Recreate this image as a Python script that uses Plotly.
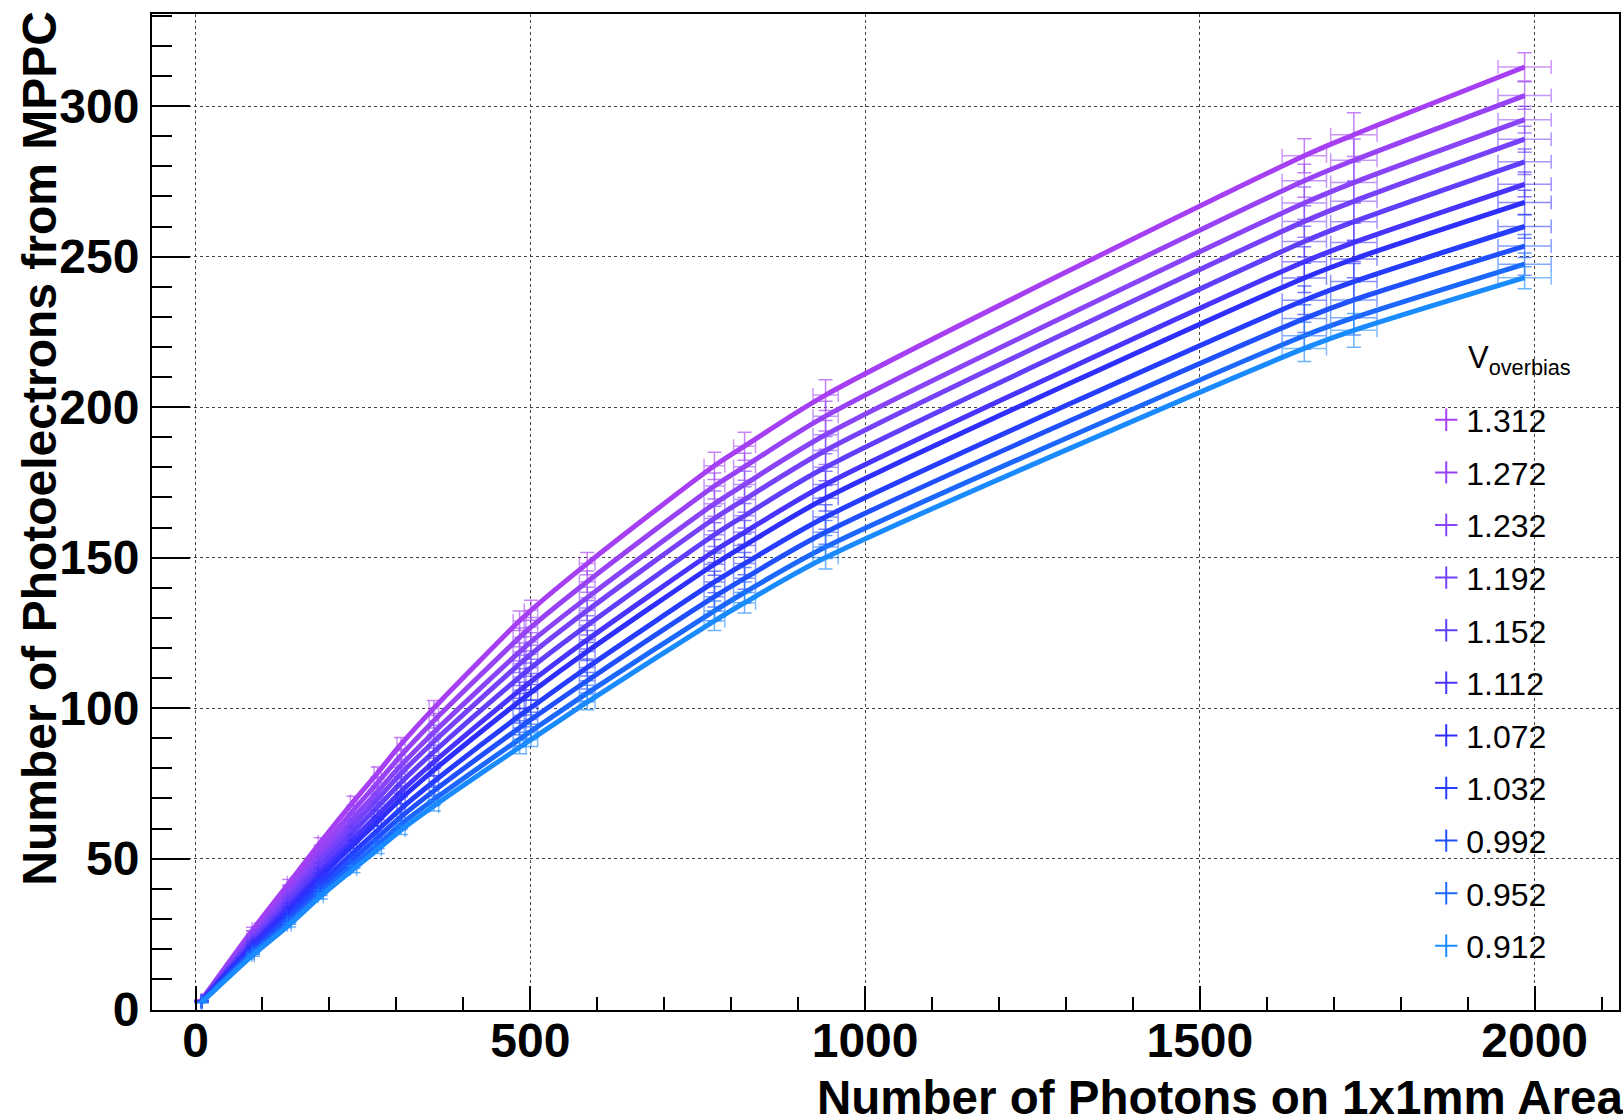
import plotly.graph_objects as go

# ---------------- data ----------------
photons = [9, 86, 140, 187, 236, 272, 307, 356, 484, 501, 585, 775, 820, 941, 1656, 1730, 1985]

overbias = ["1.312", "1.272", "1.232", "1.192", "1.152", "1.112",
            "1.072", "1.032", "0.992", "0.952", "0.912"]

pe_1312 = [3.0, 26.5, 42.0, 55.5, 69.0, 78.5, 88.0, 100.0, 129.0, 132.5, 148.0, 180.5, 187.0, 204.0, 283.5, 290.5, 313.0]
pe_1272 = [2.9, 25.4, 40.2, 53.2, 66.1, 75.2, 84.3, 95.8, 123.5, 126.9, 142.0, 173.8, 180.2, 197.0, 275.2, 282.0, 303.5]
pe_1232 = [2.8, 24.4, 38.6, 51.1, 63.5, 72.3, 81.0, 92.0, 118.7, 122.0, 136.7, 167.9, 174.3, 190.8, 267.8, 274.6, 295.5]
pe_1192 = [2.7, 23.6, 37.2, 49.4, 61.3, 69.8, 78.3, 88.9, 114.7, 117.9, 132.4, 163.0, 169.3, 185.6, 261.7, 268.4, 289.0]
pe_1152 = [2.6, 22.7, 35.8, 47.5, 59.0, 67.2, 75.3, 85.5, 110.3, 113.4, 127.5, 157.6, 163.9, 180.0, 255.0, 261.6, 281.5]
pe_1112 = [2.6, 21.8, 34.3, 45.6, 56.6, 64.5, 72.3, 82.1, 105.9, 108.8, 122.7, 152.2, 158.4, 174.3, 248.3, 254.7, 274.0]
pe_1072 = [2.5, 21.1, 33.1, 44.1, 54.7, 62.3, 69.9, 79.4, 102.3, 105.2, 118.8, 147.8, 154.0, 169.7, 242.9, 249.2, 268.0]
pe_1032 = [2.4, 20.1, 31.5, 42.0, 52.1, 59.4, 66.6, 75.6, 97.5, 100.2, 113.5, 141.9, 148.0, 163.5, 235.5, 241.7, 260.0]
pe_0992 = [2.3, 19.3, 30.2, 40.3, 50.0, 57.0, 63.9, 72.5, 93.5, 96.2, 109.1, 137.0, 143.1, 158.4, 229.4, 235.6, 253.5]
pe_0952 = [2.3, 18.6, 28.9, 38.7, 48.0, 54.7, 61.4, 69.6, 89.7, 92.3, 105.0, 132.3, 138.4, 153.5, 223.7, 229.7, 247.5]
pe_0912 = [2.2, 18.0, 28.0, 37.5, 46.5, 53.0, 59.5, 67.5, 87.0, 89.5, 102.0, 129.0, 135.0, 150.0, 219.5, 225.5, 243.0]

series_values = [pe_1312, pe_1272, pe_1232, pe_1192, pe_1152, pe_1112,
                 pe_1072, pe_1032, pe_0992, pe_0952, pe_0912]

# relative uncertainties (percent) per photon point
yerr_pct = [3.0, 2.5, 2.5, 2.5, 2.5, 2.5, 2.5, 2.5, 2.5, 2.5, 2.5, 2.5, 2.5, 2.5, 2.0, 2.5, 1.5]
xerr_pct = 2.0

# ---------------- style ----------------
colors = ["#a63ff4", "#9842f6", "#8a44f8", "#7642f9", "#603efb", "#4834fc",
          "#2e2efd", "#263cfe", "#2050fe", "#1c68ff", "#1a8aff"]

def rgba(hexc, a):
    h = hexc.lstrip("#")
    return "rgba(%d,%d,%d,%.2f)" % (int(h[0:2], 16), int(h[2:4], 16), int(h[4:6], 16), a)

FONT = "Liberation Sans, Arial, Helvetica, sans-serif"

fig = go.Figure()

for name, vals, col in zip(overbias, series_values, colors):
    fig.add_trace(go.Scatter(
        x=photons, y=vals, mode="lines",
        line=dict(color=col, width=5, shape="spline", smoothing=0.8),
        error_y=dict(type="data", array=[v * p / 100.0 for v, p in zip(vals, yerr_pct)],
                     color=rgba(col, 0.65), thickness=1.5, width=7),
        error_x=dict(type="percent", value=xerr_pct,
                     color=rgba(col, 0.55), thickness=1.5, width=7),
        showlegend=False, hoverinfo="skip",
    ))

# legend entries (error-bar style "+")
for name, col in zip(overbias, colors):
    fig.add_trace(go.Scatter(
        x=[None], y=[None], mode="markers",
        marker=dict(symbol="cross-thin", size=16, line=dict(width=2, color=col), color=col),
        name=name, legendgroup=name, showlegend=True,
    ))

fig.update_layout(
    width=1623, height=1117,
    margin=dict(l=152, r=2, t=14, b=107),
    paper_bgcolor="white", plot_bgcolor="white",
    font=dict(family=FONT, color="black"),
    showlegend=True,
    legend=dict(
        x=0.8686, y=0.620, xanchor="left", yanchor="top",
        bgcolor="rgba(255,255,255,0)", borderwidth=0,
        font=dict(size=32, family=FONT, color="black"),
        tracegroupgap=8, itemsizing="trace",
    ),
    xaxis=dict(
        range=[-65, 2126],
        showline=True, linecolor="black", linewidth=2, mirror=True,
        ticks="inside", ticklen=24, tickwidth=1.5, tickcolor="black",
        tick0=0, dtick=500,
        minor=dict(dtick=100, ticks="inside", ticklen=13, tickwidth=1.5, tickcolor="black", showgrid=False),
        showgrid=True, gridcolor="#444", griddash="dot", gridwidth=1.2,
        zeroline=False,
        tickfont=dict(size=48, family=FONT, weight="bold"),
        ticklabelstandoff=-13,
    ),
    yaxis=dict(
        range=[-0.3, 330.6],
        showline=True, linecolor="black", linewidth=2, mirror=True,
        ticks="inside", ticklen=38, tickwidth=1.5, tickcolor="black",
        tick0=0, dtick=50,
        minor=dict(dtick=10, ticks="inside", ticklen=20, tickwidth=1.5, tickcolor="black", showgrid=False),
        showgrid=True, gridcolor="#444", griddash="dot", gridwidth=1.2,
        zeroline=False,
        tickfont=dict(size=48, family=FONT, weight="bold"),
        ticklabelstandoff=1,
    ),
    annotations=[
        dict(text="Number of Photons on 1x1mm Area", xref="paper", yref="paper",
             x=1.004, y=-0.088, xanchor="right", yanchor="middle", showarrow=False,
             font=dict(size=47.5, family=FONT, weight="bold", color="black")),
        dict(text="Number of Photoelectrons from MPPC", xref="paper", yref="paper",
             x=-0.0769, y=1.005, xanchor="center", yanchor="top", textangle=-90, showarrow=False,
             font=dict(size=48, family=FONT, weight="bold", color="black")),
        dict(text="V<sub>overbias</sub>", xref="paper", yref="paper",
             x=0.896, y=0.653, xanchor="left", yanchor="middle", showarrow=False,
             font=dict(size=31, family=FONT, color="black")),
    ],
)

fig.write_html("out.html", config={"displayModeBar": False},
               post_script="document.body.style.margin='0';document.body.style.padding='0';document.body.style.overflow='hidden';")
